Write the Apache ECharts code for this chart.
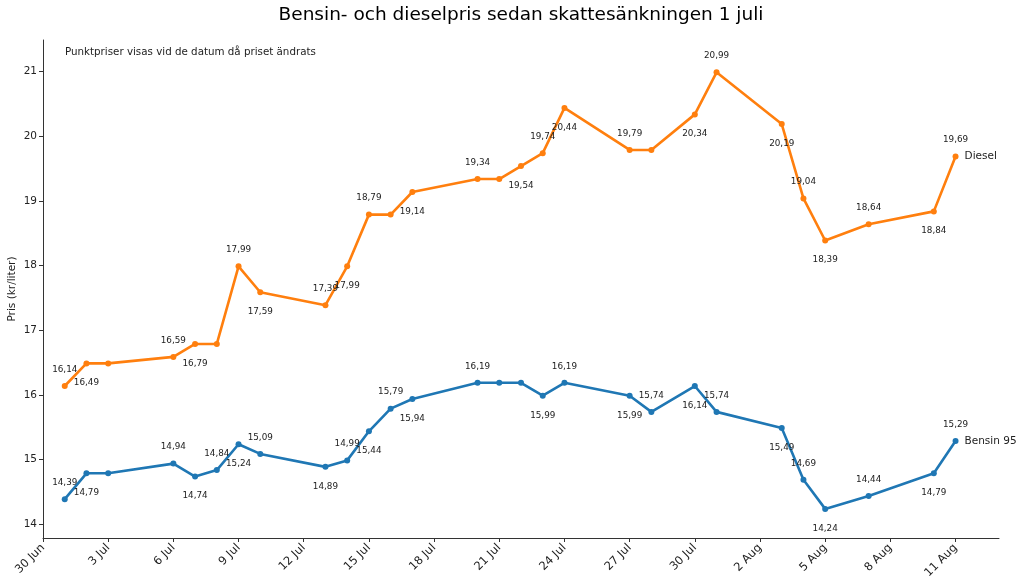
<!DOCTYPE html>
<html><head><meta charset="utf-8">
<script src="https://cdn.jsdelivr.net/npm/echarts@6/dist/echarts.min.js"></script>
<style>html,body{margin:0;padding:0;background:#fff}#c{width:1024px;height:585px}</style>
</head><body><div id="c"></div>
<script>
const dates = ['2022-07-01','2022-07-02','2022-07-03','2022-07-06','2022-07-07','2022-07-08','2022-07-09','2022-07-10',
  '2022-07-13','2022-07-14','2022-07-15','2022-07-16','2022-07-17','2022-07-20','2022-07-21','2022-07-22','2022-07-23',
  '2022-07-24','2022-07-27','2022-07-28','2022-07-30','2022-07-31','2022-08-03','2022-08-04','2022-08-05','2022-08-07',
  '2022-08-10','2022-08-11'];
const bensin = [14.39,14.79,14.79,14.94,14.74,14.84,15.24,15.09,14.89,14.99,15.44,15.79,15.94,16.19,16.19,16.19,15.99,
  16.19,15.99,15.74,16.14,15.74,15.49,14.69,14.24,14.44,14.79,15.29];
const diesel = [16.14,16.49,16.49,16.59,16.79,16.79,17.99,17.59,17.39,17.99,18.79,18.79,19.14,19.34,19.34,19.54,19.74,
  20.44,19.79,19.79,20.34,20.99,20.19,19.04,18.39,18.64,18.84,19.69];
const tickDates = ['2022-06-30','2022-07-03','2022-07-06','2022-07-09','2022-07-12','2022-07-15','2022-07-18','2022-07-21',
  '2022-07-24','2022-07-27','2022-07-30','2022-08-02','2022-08-05','2022-08-08','2022-08-11'];
const monthNames = ['Jan','Feb','Mar','Apr','May','Jun','Jul','Aug','Sep','Oct','Nov','Dec'];
const yTicks = [14,15,16,17,18,19,20,21];
const startDate = '2022-06-30';
const endDate = '2022-08-13';
const titleText = 'Bensin- och dieselpris sedan skattesänkningen 1 juli';
const noteText = 'Punktpriser visas vid de datum då priset ändrats';

const FONT = '"DejaVu Sans", sans-serif';
function dayOffset(s){ return (Date.parse(s+'T00:00:00Z') - Date.parse(startDate+'T00:00:00Z'))/86400000; }
function fmtDay(off){
  const d = new Date(Date.parse(startDate+'T00:00:00Z') + off*86400000);
  return d.getUTCDate() + ' ' + monthNames[d.getUTCMonth()];
}
function buildData(vals){
  let pos = 'top', prev = null; const out = [];
  vals.forEach((v,i)=>{
    const item = {value:[dayOffset(dates[i]), v]};
    if (prev === null || v !== prev){
      item.label = {show:true, position:pos, distance: pos==='top' ? 9 : 12};
      pos = pos==='top' ? 'bottom' : 'top';
    } else item.label = {show:false};
    prev = v; out.push(item);
  });
  return out;
}
function mkSeries(name, vals, color){
  return {
    name, type:'line', data: buildData(vals), symbol:'circle', symbolSize:6,
    lineStyle:{width:2.6, color}, itemStyle:{color},
    label:{fontFamily:FONT, fontSize:8.8, color:'#222',
      formatter: p => p.value[1].toFixed(2).replace('.', ',')},
    endLabel:{show:true, formatter:name, fontFamily:FONT, fontSize:10.5, color:'#222', distance:9},
    labelLayout:{hideOverlap:false},
    emphasis:{disabled:true}
  };
}
const chart = echarts.init(document.getElementById('c'), null, {renderer:'canvas'});
chart.setOption({
  animation:false,
  grid:{left:43, right:25, top:40, bottom:47, containLabel:false, outerBoundsMode:'none'},
  xAxis:{type:'value', min:0, max:dayOffset(endDate),
    axisLine:{lineStyle:{color:'#333', width:1}},
    splitLine:{show:false},
    axisTick:{customValues: tickDates.map(dayOffset), length:4, lineStyle:{color:'#333'}},
    axisLabel:{customValues: tickDates.map(dayOffset), formatter: v => fmtDay(v), rotate:45,
      fontFamily:FONT, fontSize:11.5, color:'#222', margin:8, hideOverlap:false}},
  yAxis:{type:'value', min:13.79, max:21.49,
    name:'Pris (kr/liter)', nameLocation:'middle', nameGap:25, nameMoveOverlap:false,
    nameTextStyle:{fontFamily:FONT, fontSize:10.5, color:'#222'},
    axisLine:{show:true, lineStyle:{color:'#333', width:1}},
    splitLine:{show:false},
    axisTick:{show:true, customValues: yTicks, length:4, lineStyle:{color:'#333'}},
    axisLabel:{customValues: yTicks, fontFamily:FONT, fontSize:10.5, color:'#222', margin:6}},
  series:[mkSeries('Bensin 95', bensin, '#1f77b4'), mkSeries('Diesel', diesel, '#ff7f0e')],
  graphic:[
    {type:'text', x:521, y:15, style:{text:titleText, align:'center', verticalAlign:'middle',
      font:'18.5px "DejaVu Sans", sans-serif', fill:'#000'}},
    {type:'text', x:65, y:52, style:{text:noteText, align:'left', verticalAlign:'middle',
      font:'10.3px "DejaVu Sans", sans-serif', fill:'#222'}}
  ]
});
</script></body></html>
